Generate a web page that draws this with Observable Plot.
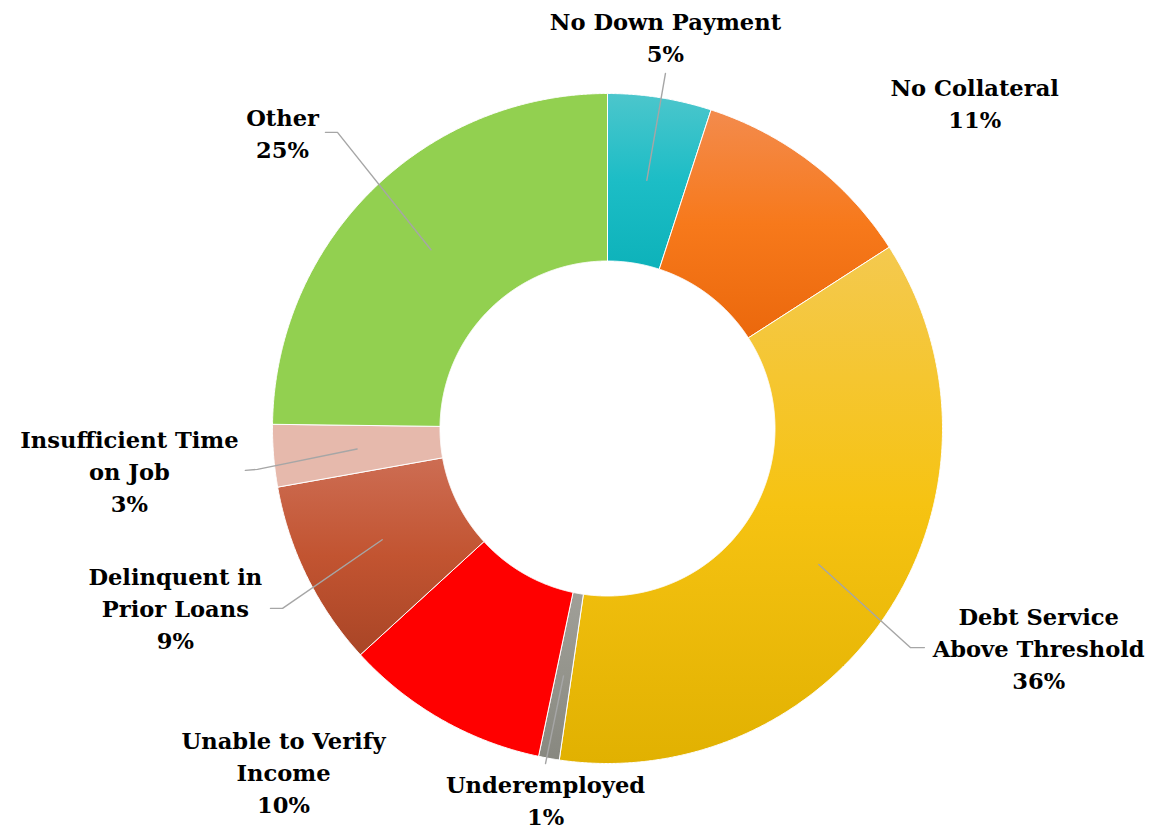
<!DOCTYPE html>
<html><head><meta charset="utf-8">
<script src="https://cdn.jsdelivr.net/npm/d3@7"></script>
<script src="https://cdn.jsdelivr.net/npm/@observablehq/plot@0.6"></script>
<style>html,body{margin:0;padding:0;background:#fff;overflow:hidden}</style>
</head><body><div id="chart"></div>
<script>
// ---- data ----
const categories = ["No Down Payment", "No Collateral", "Debt Service Above Threshold", "Underemployed",
  "Unable to Verify Income", "Delinquent in Prior Loans", "Insufficient Time on Job", "Other"];
const values = [5.0, 10.9, 36.4, 1.0, 9.9, 9.0, 3.0, 24.8];
const labelLines = [["No Down Payment"], ["No Collateral"], ["Debt Service", "Above Threshold"], ["Underemployed"],
  ["Unable to Verify", "Income"], ["Delinquent in", "Prior Loans"], ["Insufficient Time", "on Job"], ["Other"]];

// ---- styles ----
const sliceStops = [
  ["#4cc6cc", "#1cbdc6", "#0db2ba"],
  ["#f38b4d", "#f7791b", "#eb680c"],
  ["#f4c94f", "#f6c312", "#e1b101"],
  ["#a09f98", "#94948c", "#888880"],
  ["#ff0000", "#ff0000", "#ff0000"],
  ["#cd6d53", "#c25431", "#a94526"],
  ["#e6b9ac", "#e6b9ac", "#e6b9ac"],
  ["#92d050", "#92d050", "#92d050"]
];

// ---- layout (unit = outer radius) ----
const W = 1171, H = 829, R = 335, CX = 607, CY = 428, INNER = 0.5;
const labelPos = [[0.173, 1.172], [1.096, 0.976], [1.287, -0.651], [-0.185, -1.106],
  [-0.967, -1.021], [-1.290, -0.531], [-1.427, -0.122], [-0.970, 0.887]];
const leaderEnds = [[[0.173, 1.060]], null, [[0.904, -0.654], [0.946, -0.654]], [[-0.185, -1.0]],
  null, [[-0.970, -0.537], [-1.006, -0.537]], [[-1.045, -0.122], [-1.081, -0.125]], [[-0.806, 0.884], [-0.842, 0.884]]];

// ---- build ----
const arcs = d3.pie().sort(null).value(d => d)(values);
const pt = (a, r) => [r * Math.sin(a), r * Math.cos(a)];
const slicePts = [];
arcs.forEach((a, i) => {
  const n = Math.max(4, Math.ceil((a.endAngle - a.startAngle) / 0.004));
  const ring = [];
  for (let k = 0; k <= n; k++) ring.push(pt(a.startAngle + (a.endAngle - a.startAngle) * k / n, 1));
  for (let k = n; k >= 0; k--) ring.push(pt(a.startAngle + (a.endAngle - a.startAngle) * k / n, INNER));
  ring.push(ring[0]);
  ring.forEach(([x, y]) => slicePts.push({id: i, x, y, fill: `url(#grad${i})`}));
});
const leaderPts = [];
arcs.forEach((a, i) => {
  if (!leaderEnds[i]) return;
  const mid = (a.startAngle + a.endAngle) / 2;
  const [x0, y0] = pt(mid, (1 + INNER) / 2);
  leaderPts.push({id: i, x: x0, y: y0});
  leaderEnds[i].forEach(([x, y]) => leaderPts.push({id: i, x, y}));
});
const labels = arcs.map((a, i) => ({
  x: labelPos[i][0], y: labelPos[i][1],
  text: [...labelLines[i], Math.round(values[i]) + "%"].join("\n")
}));

const svg = Plot.plot({
  width: W, height: H, margin: 0,
  x: {domain: [-CX / R, (W - CX) / R], axis: null},
  y: {domain: [-(H - CY) / R, CY / R], axis: null},
  color: {type: "identity"},
  style: {background: "white"},
  marks: [
    Plot.line(slicePts, {x: "x", y: "y", z: "id", fill: "fill", stroke: "white", strokeWidth: 1, curve: "linear-closed"}),
    Plot.line(leaderPts, {x: "x", y: "y", z: "id", stroke: "#a6a6a6", strokeWidth: 1.4}),
    Plot.text(labels, {x: "x", y: "y", text: "text", fontSize: 22.6, fontWeight: "bold",
      fontFamily: "DejaVu Serif", lineHeight: 1.416, lineAnchor: "middle", fill: "black"})
  ]
});
const defs = d3.select(svg).insert("defs", ":first-child");
sliceStops.forEach((stops, i) => {
  const g = defs.append("linearGradient").attr("id", "grad" + i)
    .attr("x1", 0).attr("y1", 0).attr("x2", 0).attr("y2", 1);
  stops.forEach((c, j) => g.append("stop").attr("offset", j / (stops.length - 1)).attr("stop-color", c));
});
document.getElementById("chart").append(svg);
</script>
</body></html>
